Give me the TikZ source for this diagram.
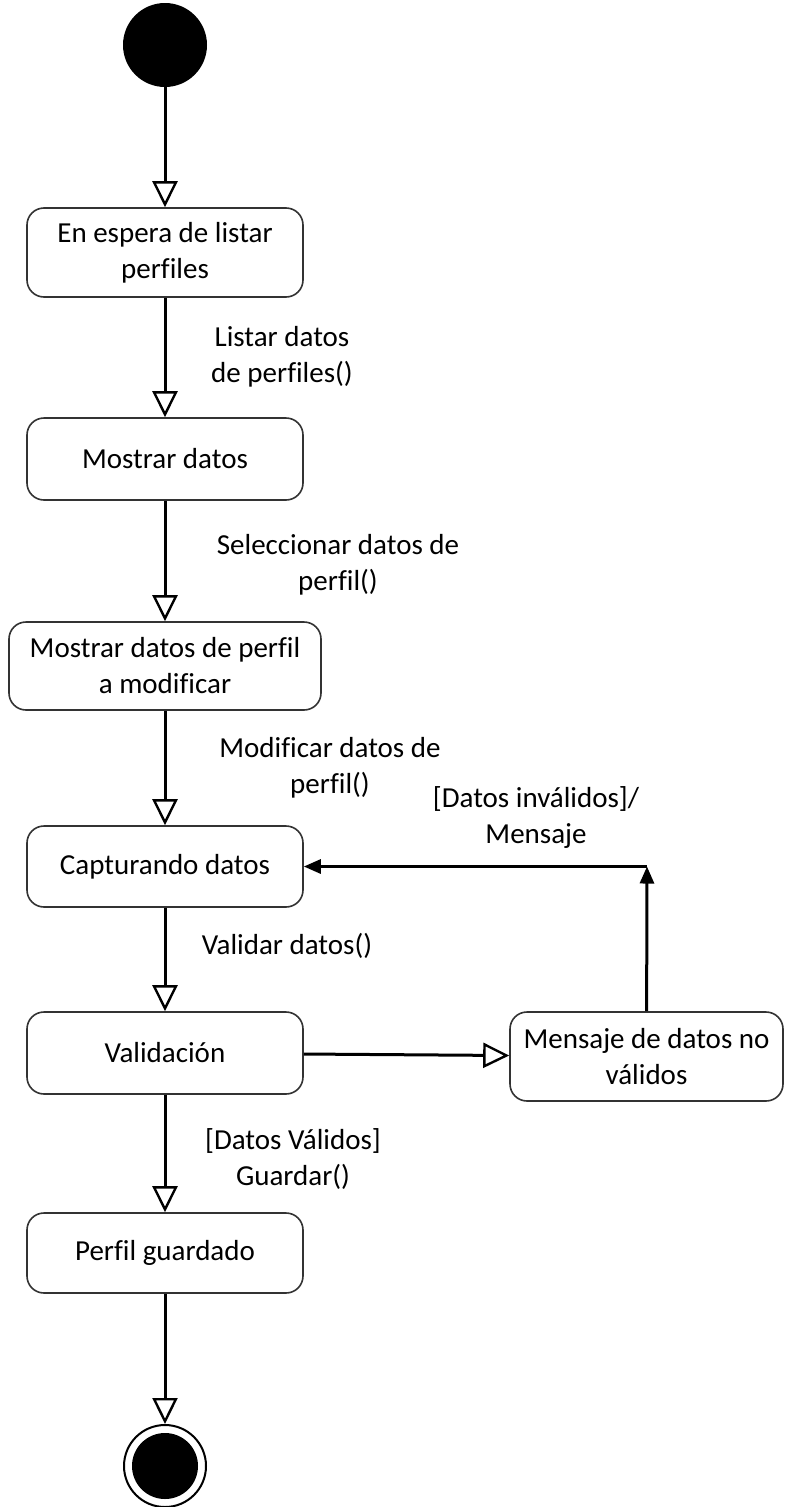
\documentclass[tikz,border=0pt]{standalone}
\usepackage{fontspec}
\setmainfont{Carlito}[Ligatures=NoCommon]
\usetikzlibrary{arrows.meta}
\usetikzlibrary{positioning}

\begin{document}
\begin{tikzpicture}[x=1pt, y=-1pt,
    every node/.style={font=\fontsize{29}{36}\selectfont, align=center},
    state/.style={draw=black!80, line width=1.6pt, rounded corners=17pt, inner sep=0pt, minimum width=276pt, minimum height=82pt},
    lbl/.style={inner sep=0pt},
    flow/.style={line width=3pt, -{Triangle[open, length=26pt, width=25pt, line width=2.4pt]}},
    back/.style={line width=3pt, -{Triangle[length=17pt, width=14pt]}}]

      \useasboundingbox (0,0) rectangle (786,1507);

      % start and end
      \node[circle, fill=black, minimum size=84pt, inner sep=0pt] (start) at (165, 45) {};
      \node[circle, draw=black, line width=2pt, minimum size=82pt, inner sep=0pt] (stop) at (165, 1466) {};
      \node[circle, fill=black, minimum size=66pt, inner sep=0pt] (stopdot) at (165, 1466) {};

      % states
      \node[state, minimum height=89pt] (espera) at (165, 252.5) {En espera de listar\\perfiles};
      \node[state] (mostrar) at (165, 459) {Mostrar datos};
      \node[state, minimum width=312pt, minimum height=88pt] (perfil) at (165, 666) {Mostrar datos de perfil\\a modificar};
      \node[state, minimum height=81pt] (captura) at (165, 866.5) {Capturando datos};
      \node[state] (valida) at (165, 1053) {Validación};
      \node[state, minimum width=273pt, minimum height=89pt] (mensaje) at (646.5, 1056.5) {Mensaje de datos no\\válidos};
      \node[state, minimum height=80pt] (guardado) at (165, 1253) {Perfil guardado};

      \coordinate (esquina) at (647, 866.5);

      % transitions
      \draw[flow] (start) -- (espera);
      \draw[flow] (espera) -- (mostrar);
      \draw[flow] (mostrar) -- (perfil);
      \draw[flow] (perfil) -- (captura);
      \draw[flow] (captura) -- (valida);
      \draw[flow] (valida) -- (mensaje);
      \draw[flow] (valida) -- (guardado);
      \draw[flow] (guardado) -- (stop);
      \draw[back] (mensaje) -- (esquina);
      \draw[back] (esquina) -- (captura);

      % labels
      \node[lbl] (l1) at (282, 357) {Listar datos\\de perfiles()};
      \node[lbl] (l2) at (338, 565) {Seleccionar datos de\\perfil()};
      \node[lbl] (l3) at (330, 768) {Modificar datos de\\perfil()};
      \node[lbl] (l4) at (287, 946) {Validar datos()};
      \node[lbl] (l5) at (536, 817) {[Datos inválidos]/\\Mensaje};
      \node[lbl] (l6) at (293, 1159) {[Datos Válidos]\\Guardar()};

    \end{tikzpicture}
\end{document}
